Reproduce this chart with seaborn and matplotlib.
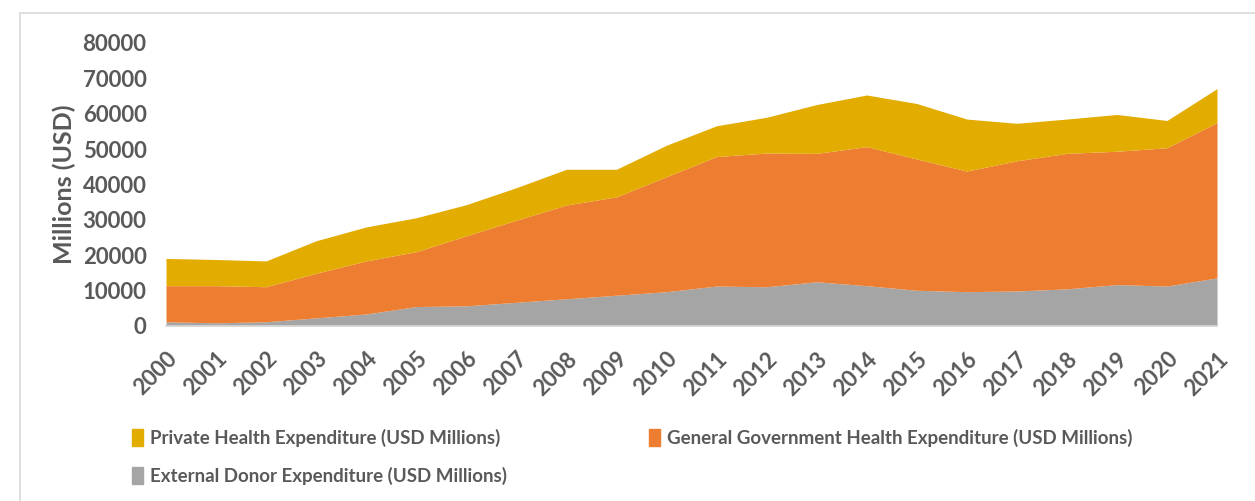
import matplotlib
matplotlib.use("Agg")
import matplotlib.pyplot as plt
from matplotlib.patches import Rectangle, Patch
import seaborn as sns

years = list(range(2000, 2022))
external_donor = [1200, 900, 1200, 2300, 3400, 5500, 5700, 6700, 7700, 8700, 9700,
                  11300, 11100, 12500, 11400, 10100, 9700, 9900, 10500, 11700, 11300, 13600]
general_government = [10200, 10500, 9900, 12600, 15000, 15500, 19800, 23200, 26500, 27800, 32500,
                      36600, 37800, 36300, 39300, 37100, 34100, 36800, 38300, 37700, 39100, 43900]
private_health = [7700, 7400, 7300, 9200, 9600, 9600, 8800, 9200, 10100, 7800, 8900,
                  8700, 10100, 13800, 14600, 15700, 14700, 10600, 9700, 10400, 7700, 9600]

labels = ["External Donor Expenditure (USD Millions)",
          "General Government Health Expenditure (USD Millions)",
          "Private Health Expenditure (USD Millions)"]
colors = ["#A5A5A5", "#ED7D31", "#E2AC00"]
yticks = [0, 10000, 20000, 30000, 40000, 50000, 60000, 70000, 80000]

sns.set_theme(style="white")
plt.rcParams["font.family"] = ["Lato", "DejaVu Sans"]
plt.rcParams["font.weight"] = "bold"
text_color = "#595959"

fig = plt.figure(figsize=(12.55, 5.01), dpi=100)
ax = fig.add_axes([166 / 1255, 1 - 326 / 501, (1217 - 166) / 1255, (326 - 43) / 501])

ax.stackplot(years, external_donor, general_government, private_health,
             colors=colors, labels=labels, linewidth=0)

ax.set_xlim(2000, 2021)
ax.set_ylim(0, 80000)
ax.set_yticks(yticks)
ax.set_yticklabels([str(v) for v in yticks], fontsize=16, fontweight="bold", color=text_color)
ax.set_xticks(years)
ax.set_xticklabels([str(y) for y in years], rotation=45, ha="right", va="top",
                   rotation_mode="anchor", fontsize=16, fontweight="bold", color=text_color)
ax.tick_params(axis="both", length=0)
ax.tick_params(axis="y", pad=14)
ax.tick_params(axis="x", pad=16)
ax.set_ylabel("Millions (USD)", fontsize=18, fontweight="bold", color=text_color, labelpad=5)

sns.despine(ax=ax, left=True, top=True, right=True)
ax.spines["bottom"].set_color("#D9D9D9")
ax.spines["bottom"].set_linewidth(1.2)

# chart frame
fig.patches.append(Rectangle((20 / 1255, -0.1), 1.2, 1 - 13 / 501 + 0.1, transform=fig.transFigure,
                             fill=False, edgecolor="#D9D9D9", linewidth=1.2))

handles = [Patch(color=colors[2]), Patch(color=colors[0]), Patch(color=colors[1])]
leg_labels = [labels[2], labels[0], labels[1]]
leg = fig.legend(handles, leg_labels, loc="upper left", bbox_to_anchor=(115 / 1255, 1 - 412 / 501),
                 ncol=2, frameon=False, handlelength=0.6, handleheight=1.0,
                 handletextpad=0.35, labelspacing=1.05, columnspacing=7.6,
                 prop={"weight": "bold", "size": 13.5})
for t in leg.get_texts():
    t.set_color(text_color)

fig.savefig("out.png", dpi=100)
